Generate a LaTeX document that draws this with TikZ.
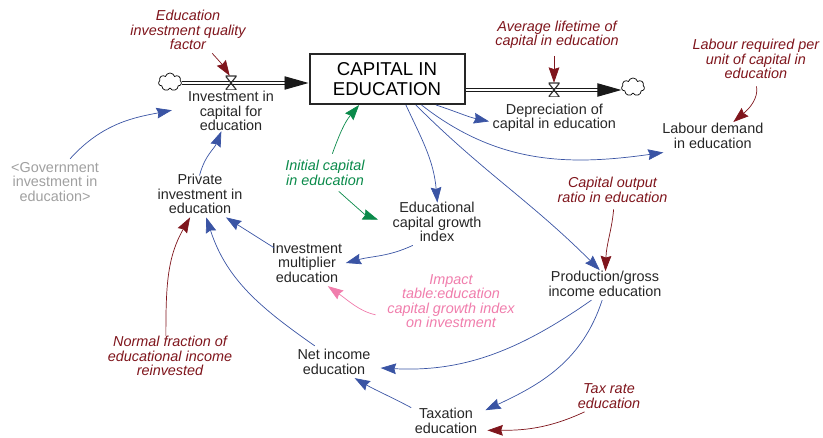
\documentclass[tikz,border=0pt]{standalone}
\usepackage{fontspec}
\setmainfont{Liberation Sans}
\usetikzlibrary{shapes.symbols, arrows.meta}
\tikzstyle{stock} = [rectangle, 
minimum width=4.65cm, 
minimum height=1.5cm,
text centered, 
align=center,
line width=0.06cm,
draw=black!85, 
font=\fontsize{15.9}{16.6}\selectfont]
\tikzstyle{aux} = [align=center, inner sep=0.1cm,
text=black!85,
font=\fontsize{12.3}{12.4}\selectfont]
\tikzstyle{param} = [aux, text=causered,
font=\fontsize{12.3}{12.4}\selectfont\itshape]
\tikzstyle{cloudy} = [cloud, cloud puffs=7, draw=black, line width=0.6pt, inner sep=0pt,
minimum width=0.69cm, minimum height=0.54cm]
\tikzstyle{valve} = [rectangle, inner sep=0pt, minimum width=0.33cm, minimum height=0.42cm,
path picture={\draw [black!80, line width=1pt] (path picture bounding box.north west) -- (path picture bounding box.north east)
-- (path picture bounding box.south west) -- (path picture bounding box.south east) -- cycle;}]
\tikzstyle{pipe} = [draw=black!90, line width=0.8pt, double=white, double distance=2.4pt,
-{Triangle[length=0.72cm,width=0.4cm]}]
\tikzstyle{link} = [draw=linkblue, line width=0.6pt, ->, >={Stealth[length=0.46cm,width=0.32cm,inset=0.05cm]}]
\tikzstyle{redlink} = [link, draw=causered]
\tikzstyle{greenlink} = [link, draw=initgreen]
\tikzstyle{pinklink} = [link, draw=tablepink]
\definecolor{linkblue}{RGB}{58,84,164}
\definecolor{causered}{RGB}{127,21,28}
\definecolor{initgreen}{RGB}{10,138,74}
\definecolor{tablepink}{RGB}{240,125,172}
\definecolor{shadowgray}{RGB}{160,160,160}

\begin{document}
\begin{tikzpicture}[node distance=2cm]
\useasboundingbox (0,0) rectangle (24.69,-13.14);

\node (capital) [stock] at (11.61,-2.37) {CAPITAL IN \\ EDUCATION};

\node (cloudin) [cloudy, left of=capital, xshift=-4.51cm, yshift=-0.09cm] {};
\node (flowin) [coordinate, left of=capital, xshift=-2.68cm, yshift=-0.12cm] {};
\node (invest) [aux, left of=capital, xshift=-2.68cm, yshift=-0.96cm] {Investment in \\ capital for \\ education};
\node (quality) [param, above of=invest, xshift=-1.29cm, yshift=0.43cm] {Education \\ investment quality \\ factor};

\node (cloudout) [cloudy, right of=capital, xshift=5.38cm, yshift=-0.24cm] {};
\node (flowout) [coordinate, right of=capital, xshift=3.01cm, yshift=-0.33cm] {};
\node (lifetime) [param, right of=capital, xshift=3.1cm, yshift=1.32cm] {Average lifetime of \\ capital in education};
\node (deprec) [aux, right of=capital, xshift=3.02cm, yshift=-1.17cm] {Depreciation of \\ capital in education};

\node (labour) [aux, right of=deprec, xshift=2.755cm, yshift=-0.54cm] {Labour demand \\ in education};
\node (labourunit) [param, above of=labour, xshift=1.29cm, yshift=0.31cm] {Labour required per \\ unit of capital in \\ education};

\node (private) [aux, below of=invest, xshift=-0.93cm, yshift=-0.49cm] {Private \\ investment in \\ education};
\node (govern) [aux, text=shadowgray, left of=private, xshift=-2.35cm, yshift=0.36cm] {<Government \\ investment in \\ education>};

\node (initial) [param, text=initgreen, below of=capital, xshift=-1.86cm, yshift=-0.82cm] {Initial capital \\ in education};
\node (growth) [aux, below of=capital, xshift=1.5cm, yshift=-2.29cm] {Educational \\ capital growth \\ index};
\node (multiplier) [aux, left of=growth, xshift=-1.9cm, yshift=-1.23cm] {Investment \\ multiplier \\ education};

\node (output) [param, right of=growth, xshift=3.265cm, yshift=0.96cm] {Capital output \\ ratio in education};
\node (production) [aux, below of=output, xshift=-0.225cm, yshift=-0.82cm] {Production/gross \\ income education};
\node (impact) [param, text=tablepink, below of=growth, xshift=0.42cm, yshift=-0.37cm] {Impact \\ table:education \\ capital growth index \\ on investment};

\node (netincome) [aux, below of=multiplier, xshift=0.81cm, yshift=-0.97cm] {Net income \\ education};
\node (normal) [param, left of=netincome, xshift=-2.92cm, yshift=0.18cm] {Normal fraction of \\ educational income \\ reinvested};
\node (taxation) [aux, below of=netincome, xshift=3.36cm, yshift=0.23cm] {Taxation \\ education};
\node (taxrate) [param, right of=taxation, xshift=2.89cm, yshift=0.75cm] {Tax rate \\ education};

\draw [pipe] (cloudin.east |- flowin) -- (capital.west |- flowin);
\draw [pipe] (capital.east |- flowout) -- (cloudout.west |- flowout);
\node (valvein) [valve] at (flowin) {};
\node (valveout) [valve] at (flowout) {};

\draw [redlink] (quality.-44) to[bend left=5] (valvein.100);
\draw [redlink, shorten <=0.1cm] (lifetime.south -| valveout) -- (valveout.north);
\draw [redlink, shorten <=0.12cm, shorten >=-0.1cm] (labourunit.-90) to[out=-80, in=40] (labour.35);
\draw [redlink, shorten <=0.1cm, shorten >=-0.1cm] (output.-85) to[out=-95, in=88] (production.88);
\draw [redlink, shorten <=-0.1cm] (normal.100) to[out=90, in=-120] (private.-113);
\draw [redlink, shorten >=0.2cm] (taxrate.-147) to[out=-155, in=0] (taxation.-15);

\draw [link, shorten >=0.39cm] (govern.57) to[out=48, in=191] (invest.176);
\draw [link, shorten <=-0.15cm, shorten >=-0.1cm] (private.88) to[out=75, in=-112] (invest.-115);
\draw [link] (capital.-28) to[out=-18, in=168] (deprec.183);
\draw [link, shorten >=0.08cm] (capital.-37) to[out=-38, in=188] (labour.199);
\draw [link, shorten >=-0.12cm] (capital.-54) to[out=-65, in=95] (growth.90);
\draw [link, shorten >=-0.1cm] (capital.-42) to[out=-45, in=135] (production.115);
\draw [link] (growth.-136) to[out=-155, in=15] (multiplier.0);
\draw [link, shorten <=-0.2cm] (multiplier.154) -- (private.-42);
\draw [link] (netincome.140) to[out=145, in=-72] (private.-75);
\draw [link, shorten >=0.2cm] (production.-130) to[out=-145, in=-3] (netincome.-8);
\draw [link, shorten >=0.15cm] (production.-100) to[out=-108, in=25] (taxation.14);
\draw [link] (taxation.159) to[out=152, in=-30] (netincome.-38);

\draw [greenlink, shorten <=0.1cm] (initial.69) to[out=70, in=-130] (capital.-137);
\draw [greenlink, shorten <=0.1cm, shorten >=0.35cm] (initial.-55) to[out=-42, in=160] (growth.182);
\draw [pinklink, shorten <=0.25cm] (impact.193) to[out=168, in=-35] (multiplier.-48);
\end{tikzpicture}
\end{document}
